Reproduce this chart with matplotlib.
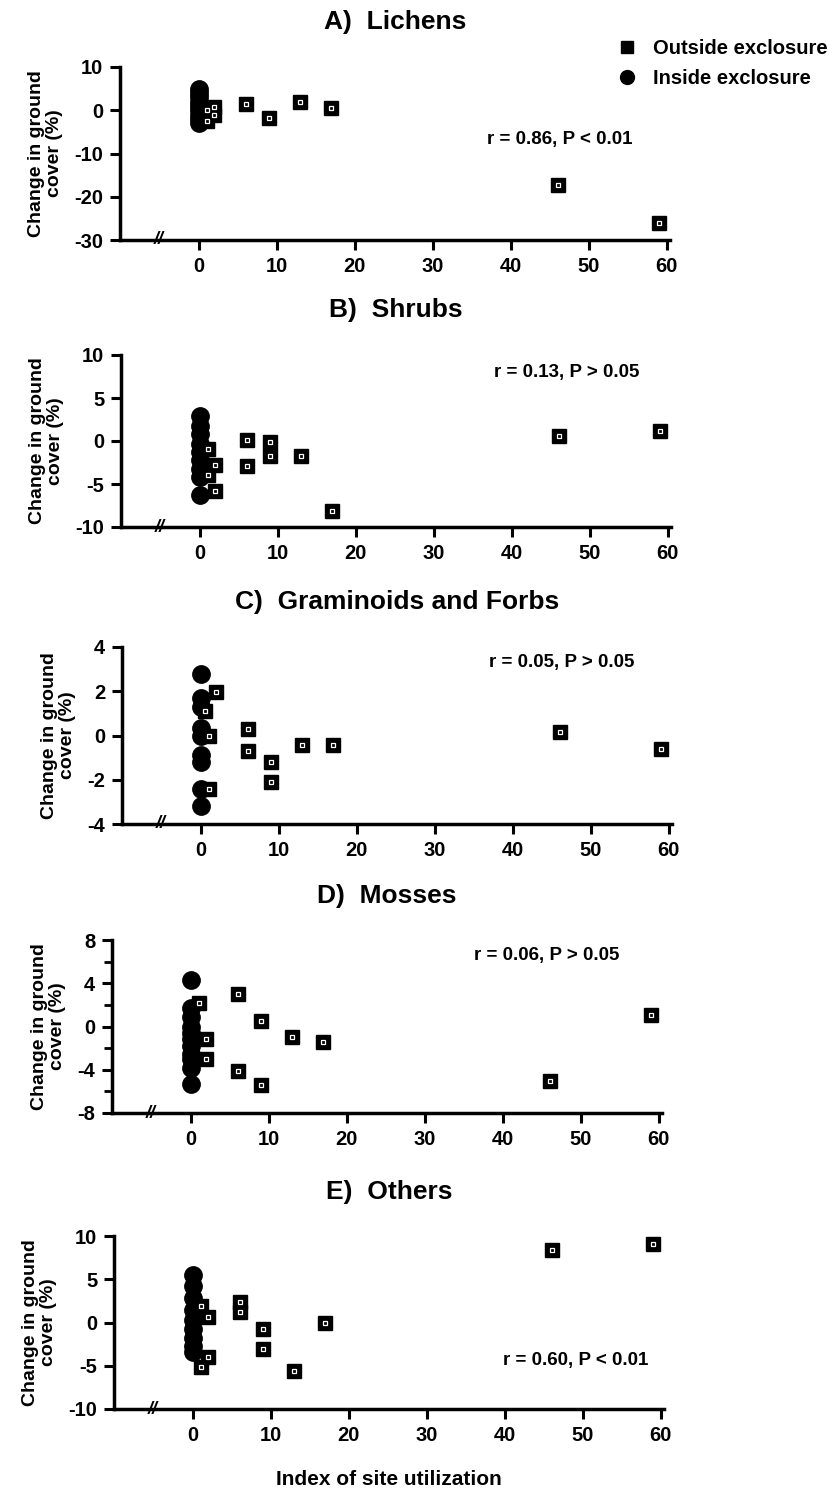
import matplotlib
matplotlib.use("Agg")
import matplotlib.pyplot as plt
from matplotlib.lines import Line2D

plt.rcParams['font.family'] = ['Liberation Sans', 'DejaVu Sans']
plt.rcParams['font.weight'] = 'bold'
plt.rcParams['axes.unicode_minus'] = False

# ---------------- data ----------------
titles = ["A)  Lichens", "B)  Shrubs", "C)  Graminoids and Forbs", "D)  Mosses", "E)  Others"]
stats = ["r = 0.86, P < 0.01", "r = 0.13, P > 0.05", "r = 0.05, P > 0.05",
         "r = 0.06, P > 0.05", "r = 0.60, P < 0.01"]

a_out_x = [1, 1, 2, 2, 6, 9, 13, 17, 46, 59]
a_out_y = [-2.5, 0, 0.7, -1.0, 1.4, -1.8, 1.8, 0.5, -17.3, -26.0]
a_in_y = [5, 4, 3, 2, 1, 0, -1, -2, -3]

b_out_x = [1, 1, 2, 2, 6, 6, 9, 9, 13, 17, 46, 59]
b_out_y = [-0.9, -4.0, -2.8, -5.8, 0.1, -2.9, -0.1, -1.7, -1.7, -8.1, 0.6, 1.2]
b_in_y = [2.9, 1.8, 0.8, -0.3, -1.3, -2.2, -3.2, -4.2, -6.3]

c_out_x = [0.5, 1, 1, 2, 6, 6, 9, 9, 13, 17, 46, 59]
c_out_y = [1.1, 0.0, -2.4, 1.95, 0.3, -0.7, -1.2, -2.1, -0.45, -0.45, 0.15, -0.6]
c_in_y = [2.8, 1.7, 1.3, 0.35, 0.0, -0.9, -1.2, -2.4, -3.2]

d_out_x = [1, 2, 2, 6, 6, 9, 9, 13, 17, 46, 59]
d_out_y = [2.2, -1.2, -3.0, 3.0, -4.1, 0.5, -5.4, -1.0, -1.4, -5.0, 1.1]
d_in_y = [4.3, 1.7, 0.9, 0.0, -0.6, -1.2, -1.8, -2.5, -3.0, -3.8, -5.3]

e_out_x = [1, 2, 2, 1, 6, 6, 9, 9, 13, 17, 46, 59]
e_out_y = [1.9, 0.6, -4.0, -5.1, 2.4, 1.2, -0.8, -3.1, -5.6, 0.0, 8.4, 9.1]
e_in_y = [5.5, 4.2, 2.8, 1.5, 0.3, -0.8, -1.8, -2.7, -3.4]

outs_x = [a_out_x, b_out_x, c_out_x, d_out_x, e_out_x]
outs_y = [a_out_y, b_out_y, c_out_y, d_out_y, e_out_y]
ins_y = [a_in_y, b_in_y, c_in_y, d_in_y, e_in_y]

ylims = [(-30, 10), (-10, 10), (-4, 4), (-8, 8), (-10, 10)]
yticks = [[-30, -20, -10, 0, 10], [-10, -5, 0, 5, 10], [-4, -2, 0, 2, 4],
          [-8, -4, 0, 4, 8], [-10, -5, 0, 5, 10]]
xticks = [0, 10, 20, 30, 40, 50, 60]

# ---------------- layout (pixels) ----------------
W, H = 837, 1494
fig = plt.figure(figsize=(W / 100, H / 100), dpi=100)
# (left px, top px, bottom px)
boxes = [(120, 67, 240), (121, 355, 527), (122, 647, 824), (112, 940, 1113), (114, 1236, 1409)]
stat_pos = [(0.80, 0.58), (0.81, 0.90), (0.80, 0.91), (0.79, 0.91), (0.84, 0.28)]
axw = 550

for i in range(5):
    l, t, b = boxes[i]
    ax = fig.add_axes([l / W, 1 - b / H, axw / W, (b - t) / H])
    ax.set_xlim(-10.1, 60.4)
    ax.set_ylim(*ylims[i])
    ax.spines['top'].set_visible(False)
    ax.spines['right'].set_visible(False)
    for s in ('left', 'bottom'):
        ax.spines[s].set_linewidth(2.5)
    ax.set_xticks(xticks)
    ax.set_yticks(yticks[i])
    if i == 3:
        ax.set_yticks([-6, -2, 2, 6], minor=True)
        ax.tick_params(axis='y', which='minor', length=6, width=2)
    ax.tick_params(axis='both', which='major', length=7, width=2.2, labelsize=14.5, pad=5)
    ax.set_xticklabels([str(v) for v in xticks], fontweight='bold')
    ax.set_yticklabels([str(v) for v in yticks[i]], fontweight='bold')

    # outside: black squares with small hollow centres
    ax.plot(outs_x[i], outs_y[i], 's', ms=10, mfc='black', mec='black', ls='none', zorder=3)
    ax.plot(outs_x[i], outs_y[i], 's', ms=3.5, mfc='none', mec='white', mew=0.9, ls='none', zorder=4)
    # inside: black circles at zero utilisation
    ax.plot([0] * len(ins_y[i]), ins_y[i], 'o', ms=12.5, mfc='black', mec='black', ls='none', zorder=2)

    # axis break mark
    ax.text(-5.2, ylims[i][0], '//', ha='center', va='center', fontsize=13,
            fontweight='bold', style='italic', zorder=5)

    ax.set_title(titles[i], fontsize=19, fontweight='bold', pad=27)
    ax.text(stat_pos[i][0], stat_pos[i][1], stats[i], transform=ax.transAxes,
            ha='center', va='center', fontsize=13.5, fontweight='bold')
    ax.set_ylabel("Change in ground\ncover (%)", fontsize=14, fontweight='bold',
                  linespacing=1.1, labelpad=8)

    if i == 4:
        ax.set_xlabel("Index of site utilization", fontsize=15, fontweight='bold', labelpad=18)

handles = [Line2D([], [], marker='s', color='black', ls='none', ms=9),
           Line2D([], [], marker='o', color='black', ls='none', ms=10)]
fig.legend(handles, ["Outside exclosure", "Inside exclosure"], loc='upper right',
           bbox_to_anchor=(1.003, 0.982), frameon=False,
           prop={'weight': 'bold', 'size': 14.5}, handletextpad=0.7, labelspacing=0.55,
           borderaxespad=0.2, handlelength=1.2)

fig.savefig("out.png", dpi=100)
